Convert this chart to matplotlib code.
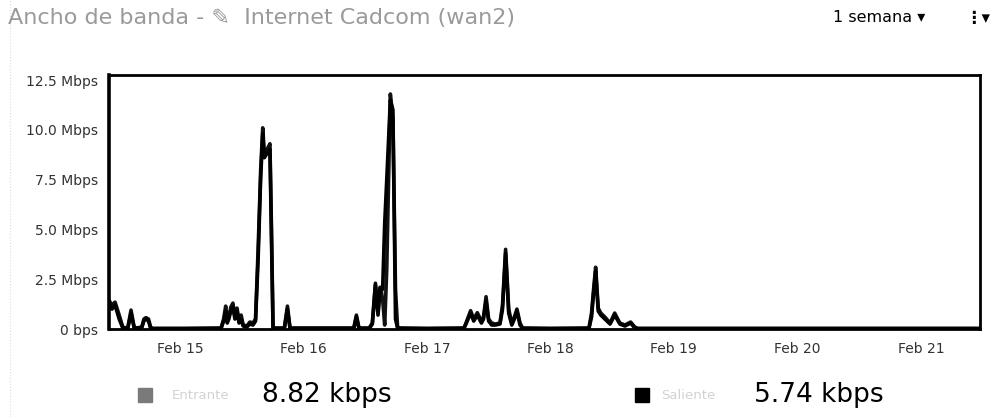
import matplotlib
matplotlib.use("Agg")
import matplotlib.pyplot as plt
import matplotlib.dates as mdates
from matplotlib.patches import Rectangle
from matplotlib.lines import Line2D
import pandas as pd

# horas desde el 14 feb 00:00
horas = [10.2, 10.8, 11.4, 12.2, 12.9, 13.5, 13.9, 14.5, 15.1, 15.6, 16.6, 17.0, 17.4, 17.9,
         18.3, 18.7, 25.0, 32.0, 32.5, 32.9, 33.2, 33.5, 33.9, 34.3, 34.7, 35.1, 35.5, 35.9,
         36.3, 37.0, 37.6, 38.2, 38.7, 39.2, 39.7, 40.1, 40.4, 40.9, 41.5, 41.8, 42.1, 42.5,
         44.3, 44.9, 45.4, 50.0, 57.8, 58.3, 58.8, 60.8, 61.4, 62.0, 62.5, 62.9, 63.4, 63.8,
         64.2, 64.9, 65.4, 65.9, 66.3, 66.8, 72.0, 79.2, 79.6, 80.5, 81.1, 81.8, 82.6, 83.0,
         83.5, 84.0, 84.6, 85.3, 86.2, 86.7, 87.3, 87.9, 88.5, 89.0, 89.5, 90.1, 90.6, 96.0,
         103.5, 104.0, 104.4, 104.8, 105.3, 105.8, 106.6, 107.6, 108.5, 109.5, 110.5, 111.6,
         112.4, 113.0, 130.0, 150.0, 179.5]

# Mbps
entrante = [1.45, 1.2, 1.35, 0.7, 0.1, 0.05, 0.1, 0.95, 0.1, 0.05, 0.1, 0.5, 0.57, 0.5,
            0.1, 0.03, 0.03, 0.05, 0.5, 1.15, 0.4, 0.6, 1.1, 1.3, 0.6, 1.05, 0.4, 0.7,
            0.2, 0.15, 0.35, 0.3, 0.5, 4.0, 8.0, 10.1, 8.8, 9.0, 9.3, 5.0, 0.1, 0.05,
            0.05, 1.15, 0.05, 0.05, 0.05, 0.7, 0.05, 0.05, 0.3, 2.3, 0.8, 2.1, 1.5, 0.2,
            3.0, 11.8, 10.5, 2.0, 0.1, 0.05, 0.03, 0.05, 0.3, 0.92, 0.5, 0.82, 0.4, 0.6,
            1.62, 0.5, 0.3, 0.25, 0.3, 1.2, 4.0, 1.0, 0.3, 0.6, 1.0, 0.3, 0.05, 0.03,
            0.05, 0.8, 2.0, 3.1, 1.05, 0.8, 0.6, 0.3, 0.8, 0.3, 0.2, 0.35,
            0.1, 0.03, 0.03, 0.03, 0.03]

saliente = [1.3, 1.0, 1.2, 0.5, 0.05, 0.03, 0.08, 0.8, 0.08, 0.03, 0.08, 0.4, 0.5, 0.4,
            0.05, 0.02, 0.02, 0.03, 0.4, 0.9, 0.3, 0.5, 0.9, 1.1, 0.5, 0.9, 0.3, 0.5,
            0.15, 0.1, 0.25, 0.2, 0.4, 3.5, 7.6, 9.8, 8.6, 8.8, 9.0, 4.5, 0.05, 0.03,
            0.03, 1.0, 0.03, 0.03, 0.03, 0.6, 0.03, 0.03, 0.25, 2.2, 0.7, 2.0, 2.0, 5.3,
            7.5, 11.5, 11.0, 0.5, 0.05, 0.03, 0.02, 0.03, 0.25, 0.8, 0.4, 0.7, 0.3, 0.5,
            1.4, 0.4, 0.2, 0.2, 0.25, 1.0, 3.8, 0.8, 0.2, 0.5, 0.9, 0.2, 0.03, 0.02,
            0.03, 0.6, 1.8, 2.9, 0.9, 0.7, 0.5, 0.25, 0.7, 0.25, 0.15, 0.3,
            0.05, 0.02, 0.02, 0.02, 0.02]

yticks = [0, 2.5, 5.0, 7.5, 10.0, 12.5]
ytick_labels = ["0 bps", "2.5 Mbps", "5.0 Mbps", "7.5 Mbps", "10.0 Mbps", "12.5 Mbps"]

titulo = "Ancho de banda - \u270e  Internet Cadcom (wan2)"
periodo = "1 semana \u25be"
leyenda = ["Entrante", "Saliente"]
totales = ["8.82 kbps", "5.74 kbps"]
col_leyenda = ["#7a7a7a", "#000000"]

t = pd.Timestamp("2020-02-14") + pd.to_timedelta(horas, unit="h")
t0 = pd.Timestamp("2020-02-14") + pd.to_timedelta(10.2, unit="h")
t1 = pd.Timestamp("2020-02-14") + pd.to_timedelta(179.5, unit="h")

fig = plt.figure(figsize=(9.99, 4.17), dpi=100)
ax = fig.add_axes([0.109, 0.211, 0.872, 0.609])

ax.fill_between(t, entrante, saliente, color="#b0b0b0", lw=0)
ax.plot(t, entrante, color="#111111", lw=2.6)
ax.plot(t, saliente, color="#000000", lw=2.6)

ax.set_xlim(t0, t1)
ax.set_ylim(0, 12.75)
ax.set_yticks(yticks)
ax.set_yticklabels(ytick_labels)
ax.xaxis.set_major_locator(mdates.DayLocator())
ax.xaxis.set_major_formatter(mdates.DateFormatter("%b %d"))
ax.tick_params(axis="both", length=0, labelsize=10, colors="#333333")
ax.tick_params(axis="y", pad=8)
ax.tick_params(axis="x", pad=9)
for s in ax.spines.values():
    s.set_linewidth(2)
    s.set_color("black")
ax.spines["left"].set_linewidth(2.6)

# cabecera
fig.text(0.008, 0.957, titulo, fontsize=16, color="#9a9a9a", va="center", ha="left")
fig.text(0.834, 0.957, periodo, fontsize=11.5, color="black", va="center", ha="left")
fig.text(0.966, 0.957, "\u22ee\u25be", fontsize=12, color="black", va="center", ha="left",
         fontweight="bold")

# leyenda inferior
ys = 0.052
for x_sq, x_lab, x_val, col, lab, val in zip([0.138, 0.636], [0.172, 0.662], [0.262, 0.755],
                                             col_leyenda, leyenda, totales):
    fig.patches.append(Rectangle((x_sq, ys - 0.016), 0.014, 0.033, transform=fig.transFigure,
                                 color=col))
    fig.text(x_lab, ys, lab, fontsize=9.5, color="#d2d2d2", va="center", ha="left")
    fig.text(x_val, ys, val, fontsize=19, color="black", va="center", ha="left")

# borde izquierdo de la tarjeta
fig.add_artist(Line2D([0.010, 0.010], [0.0, 1.0], transform=fig.transFigure, color="#dddddd",
                      lw=0.8, ls=":"))

fig.savefig("out.png", dpi=100)
